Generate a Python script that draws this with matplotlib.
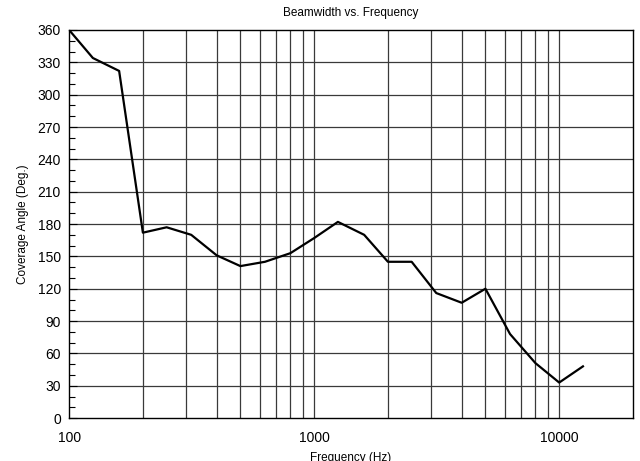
import matplotlib
matplotlib.use("Agg")
import matplotlib.pyplot as plt
from matplotlib.ticker import FixedLocator, MultipleLocator, NullFormatter

plt.rcParams['font.family'] = ['Liberation Sans', 'DejaVu Sans']

# third-octave frequencies and beamwidth
freqs = [100, 125, 160, 200, 250, 315, 400, 500, 630, 800, 1000, 1250, 1600,
         2000, 2500, 3150, 4000, 5000, 6300, 8000, 10000, 12500]
angles = [360, 334, 322, 172, 177, 170, 151, 141, 145, 153, 167, 182, 170,
          145, 145, 116, 107, 120, 78, 51, 33, 48]

x_major = [100, 1000, 10000]
x_grid = [200, 300, 400, 500, 600, 700, 800, 900, 1000,
          2000, 3000, 4000, 5000, 6000, 7000, 8000, 9000, 10000]

fig = plt.figure(figsize=(6.4, 4.61), dpi=100)
ax = fig.add_axes([0.108, 0.093, 0.881, 0.842])

ax.set_xscale('log')
ax.set_xlim(100, 20000)
ax.set_ylim(0, 360)

for g in x_grid:
    ax.axvline(g, color='#3a3a3a', lw=0.9, zorder=1)
for v in range(30, 360, 30):
    ax.axhline(v, color='#3a3a3a', lw=0.9, zorder=1)

ax.plot(freqs, angles, color='black', lw=1.6, zorder=3)

ax.xaxis.set_major_locator(FixedLocator(x_major))
ax.xaxis.set_minor_locator(FixedLocator([]))
ax.set_xticklabels([str(v) for v in x_major])
ax.xaxis.set_minor_formatter(NullFormatter())
ax.tick_params(axis='x', which='both', length=0, labelsize=10, pad=9)

ax.yaxis.set_major_locator(MultipleLocator(30))
ax.yaxis.set_minor_locator(MultipleLocator(10))
ax.tick_params(axis='y', which='major', direction='in', length=6, width=0.8, labelsize=10, pad=6)
ax.tick_params(axis='y', which='minor', direction='in', length=4, width=0.8)

for s in ax.spines.values():
    s.set_linewidth(1.0)
    s.set_color('black')

ax.set_title('Beamwidth vs. Frequency', fontsize=8.5, pad=10)
ax.set_ylabel('Coverage Angle (Deg.)', fontsize=8.5, labelpad=6)
ax.set_xlabel('Frequency (Hz)', fontsize=8.5, labelpad=5)

fig.savefig('out.png', dpi=100)
